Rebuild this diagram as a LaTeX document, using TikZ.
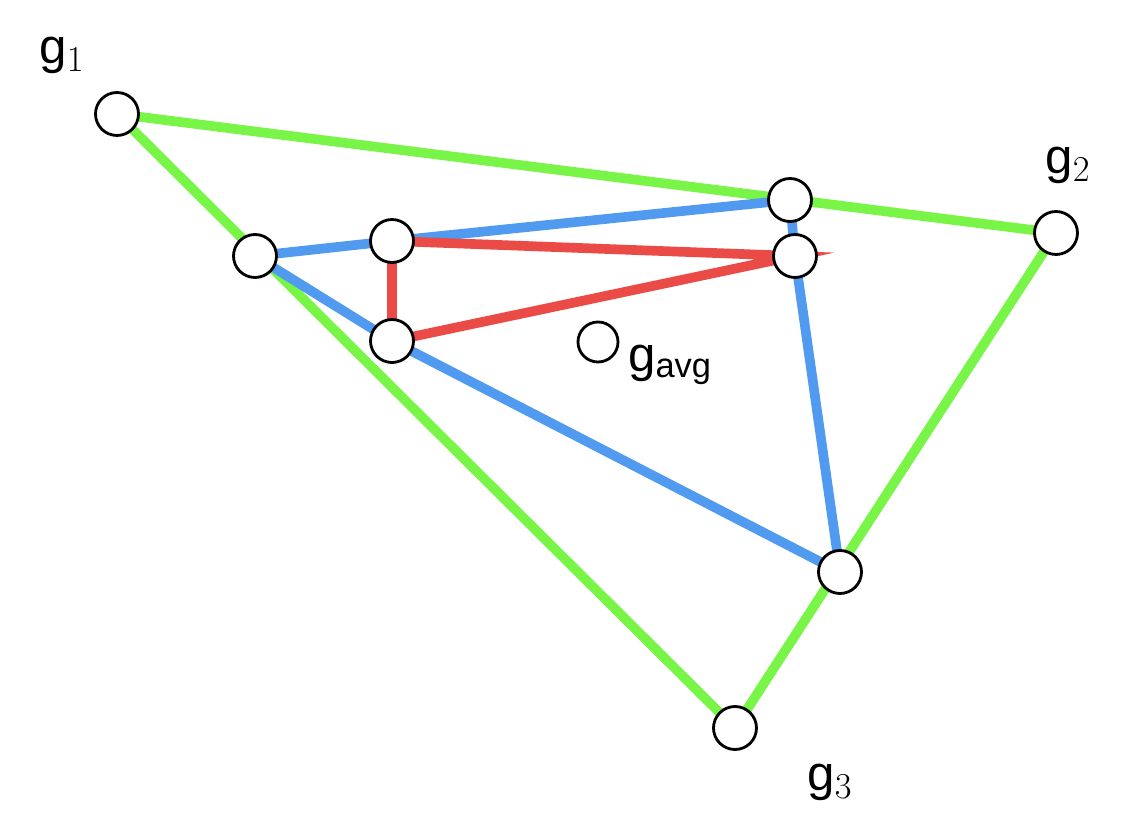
\documentclass[tikz,border=0pt]{standalone}
\usepackage{fontspec}
\setmainfont{Liberation Sans}
\begin{document}
\begin{tikzpicture}[x=0.02cm,y=-0.02cm,
  pt/.style={circle,draw=black,line width=1.6pt,fill=white,minimum size=0.86cm,inner sep=0pt},
  gr/.style={draw={rgb,255:red,120;green,245;blue,70},line width=5.5pt},
  bl/.style={draw={rgb,255:red,80;green,155;blue,240},line width=5.5pt},
  rd/.style={draw={rgb,255:red,235;green,75;blue,70},line width=5.5pt},
  lab/.style={font=\fontsize{28}{30}\selectfont}]
\useasboundingbox (0,0) rectangle (1134,830);
\coordinate (G1) at (117,114);
\coordinate (G2) at (1056,233);
\coordinate (G3) at (735,728);
\coordinate (A) at (790,200);
\coordinate (B) at (795,256);
\coordinate (C) at (255,256);
\coordinate (D) at (392,241);
\coordinate (E) at (392,341);
\coordinate (F) at (840,572);
\coordinate (GA) at (598,342);
\draw[gr] (G1) -- (G2) (G1) -- (G3) (G2) -- (G3);
\draw[bl] (C) -- (D) -- (A) -- (B) -- (F) -- (E) -- (C);
\draw[rd] (D) -- (B) -- (E) -- (D);
\foreach \n in {G1,G2,G3,A,B,C,D,E,F} \node[pt] (n\n) at (\n) {};
\node[pt,minimum size=0.8cm] (nGA) at (GA) {};
\node[lab] (l1) at (62,55) {g$_1$};
\node[lab] (l2) at (1068,165) {g$_2$};
\node[lab] (l3) at (830,782) {g$_3$};
\node[lab,anchor=west] (la) at (622,365) {g\textsubscript{avg}};
\end{tikzpicture}
\end{document}
